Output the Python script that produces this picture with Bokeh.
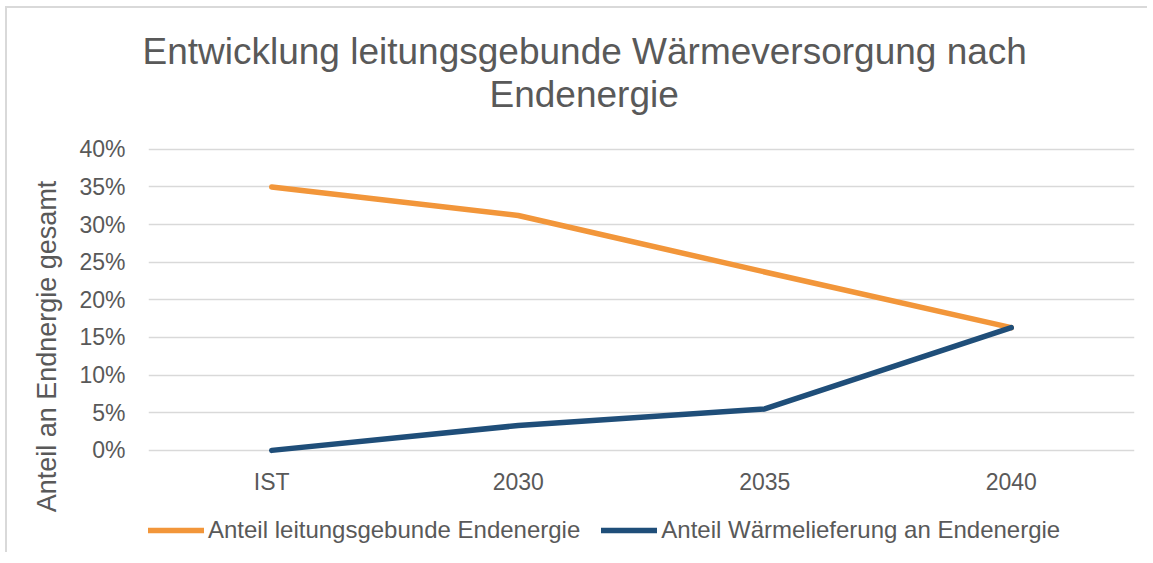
from bokeh.plotting import figure
from bokeh.models import (FactorRange, Range1d, NumeralTickFormatter, FixedTicker,
                          Legend, LegendItem, Title)
from bokeh.embed import file_html
from bokeh.resources import INLINE

# ---- data ----
categories = ["IST", "2030", "2035", "2040"]
anteil_leitungsgebunden = [0.350, 0.312, 0.237, 0.163]
anteil_waermelieferung = [0.000, 0.033, 0.055, 0.163]
series_names = ["Anteil leitungsgebunde Endenergie", "Anteil Wärmelieferung an Endenergie"]
y_ticks = [0.0, 0.05, 0.10, 0.15, 0.20, 0.25, 0.30, 0.35, 0.40]
title_lines = ["Entwicklung leitungsgebunde Wärmeversorgung nach", "Endenergie"]
y_axis_title = "Anteil an Endnergie gesamt"

FONT = "Liberation Sans"
TXT = "#595959"
ORANGE = "#F2963A"
BLUE = "#1F4E79"

# the frame reaches below 0 % so that the legend can sit inside it
p = figure(
    frame_width=986, frame_height=402,
    x_range=FactorRange(factors=categories, range_padding=0),
    y_range=Range1d(-0.129, 0.405),
    output_backend="svg", toolbar_location=None,
    min_border_left=141, min_border_right=13, min_border_top=137, min_border_bottom=5,
)
p.styles = {"margin-left": "5px", "margin-top": "6px",
            "border-left": "2px solid #d9d9d9", "border-top": "2px solid #d9d9d9"}
p.outline_line_color = None
p.background_fill_color = "white"
p.border_fill_color = "white"

# grid
p.xgrid.grid_line_color = None
p.ygrid.grid_line_color = "#d9d9d9"
p.ygrid.grid_line_width = 1.5

# y axis
p.yaxis.ticker = FixedTicker(ticks=y_ticks)
p.yaxis.formatter = NumeralTickFormatter(format="0%")
p.yaxis.axis_line_color = None
p.yaxis.major_tick_line_color = None
p.yaxis.minor_tick_line_color = None
p.yaxis.major_label_standoff = 17
p.yaxis.major_label_text_font = FONT
p.yaxis.major_label_text_font_size = "23px"
p.yaxis.major_label_text_color = TXT
p.yaxis.axis_label = y_axis_title
p.yaxis.axis_label_text_font = FONT
p.yaxis.axis_label_text_font_size = "27px"
p.yaxis.axis_label_text_font_style = "normal"
p.yaxis.axis_label_text_color = TXT
p.yaxis.axis_label_standoff = 14

# x axis, pinned to the 0 % line
p.xaxis.fixed_location = 0
p.xaxis.axis_line_color = None
p.xaxis.major_tick_line_color = None
p.xaxis.minor_tick_line_color = None
p.xaxis.major_label_standoff = 13
p.xaxis.major_label_text_font = FONT
p.xaxis.major_label_text_font_size = "23px"
p.xaxis.major_label_text_color = TXT

r1 = p.line(categories, anteil_leitungsgebunden, line_color=ORANGE, line_width=5.5,
            line_cap="round", line_join="round")
r2 = p.line(categories, anteil_waermelieferung, line_color=BLUE, line_width=5.5,
            line_cap="round", line_join="round")

legend = Legend(
    items=[LegendItem(label=series_names[0], renderers=[r1]),
           LegendItem(label=series_names[1], renderers=[r2])],
    orientation="horizontal",
    location=(0, 3),
    padding=0, margin=0, spacing=21,
    glyph_width=56, glyph_height=26, label_standoff=4,
    label_text_font=FONT, label_text_font_size="24px", label_text_color=TXT,
    border_line_color=None, background_fill_alpha=0,
)
p.add_layout(legend, "center")

# title: spacer closest to the plot, then line 2, then line 1
p.add_layout(Title(text=" ", standoff=28, text_font_size="1px"), "above")
p.add_layout(Title(text=title_lines[1], align="left", offset=341, standoff=0,
                   text_font=FONT, text_font_size="37px", text_font_style="normal",
                   text_color=TXT), "above")
p.add_layout(Title(text=title_lines[0], align="left", offset=-6, standoff=0,
                   text_font=FONT, text_font_size="37px", text_font_style="normal",
                   text_color=TXT), "above")

open("out.html", "w").write(file_html(p, INLINE))
